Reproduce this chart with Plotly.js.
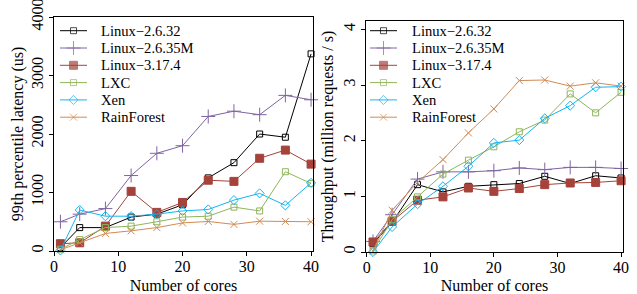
<!DOCTYPE html>
<html><head><meta charset="utf-8">
<script src="https://cdn.plot.ly/plotly-3.0.1.min.js"></script>
<style>html,body{margin:0;padding:0;background:#fff}#chart{width:637px;height:294px}</style>
</head><body><div id="chart"></div>
<script>
// ---- data ----
const cores = [1, 4, 8, 12, 16, 20, 24, 28, 32, 36, 40];
const seriesNames = ["Linux\u22122.6.32", "Linux\u22122.6.35M", "Linux\u22123.17.4", "LXC", "Xen", "RainForest"];

// 99th percentile latency (us)
const latLinux2632  = [60, 400, 400, 580, 630, 790, 1250, 1510, 2000, 1945, 3370];
const latLinux2635M = [500, 630, 725, 1290, 1670, 1800, 2300, 2390, 2330, 2660, 2585];
const latLinux3174  = [125, 140, 425, 1020, 660, 830, 1210, 1190, 1585, 1725, 1485];
const latLXC        = [30, 195, 400, 425, 500, 580, 595, 750, 685, 1355, 1155];
const latXen        = [10, 700, 595, 595, 630, 685, 710, 870, 985, 780, 1165];
const latRainForest = [20, 140, 300, 345, 400, 480, 505, 455, 510, 505, 500];

// Throughput (million requests / s)
const thrLinux2632  = [0.15, 0.53, 1.21, 1.08, 1.18, 1.21, 1.23, 1.36, 1.23, 1.37, 1.33];
const thrLinux2635M = [0.19, 0.67, 1.31, 1.44, 1.44, 1.46, 1.51, 1.48, 1.52, 1.52, 1.50];
const thrLinux3174  = [0.18, 0.55, 0.93, 0.99, 1.15, 1.09, 1.14, 1.21, 1.24, 1.25, 1.28];
const thrLXC        = [0.02, 0.58, 0.99, 1.40, 1.65, 1.89, 2.16, 2.37, 2.84, 2.50, 2.87];
const thrXen        = [0.00, 0.45, 0.86, 1.18, 1.54, 1.96, 2.01, 2.40, 2.63, 2.96, 2.97];
const thrRainForest = [0.02, 0.75, 1.25, 1.66, 2.14, 2.57, 3.08, 3.09, 2.98, 3.04, 2.98];

const latencySeries = [latLinux2632, latLinux2635M, latLinux3174, latLXC, latXen, latRainForest];
const throughputSeries = [thrLinux2632, thrLinux2635M, thrLinux3174, thrLXC, thrXen, thrRainForest];

const latTicks = [0, 1000, 2000, 3000, 4000];
const thrTicks = [0, 1, 2, 3, 4];
const coreTicks = [0, 10, 20, 30, 40];

// ---- styles ----
const colors  = ["#000000", "#8064A2", "#A5433B", "#8FB55A", "#16B4F0", "#D08B55"];
const symbols = ["square-open", "cross-thin-open", "square", "square-open", "diamond-open", "x-thin-open"];
const sizes   = [6, 10, 8, 6, 7, 7];

const FONT = "Liberation Serif, Times New Roman, serif";
const W = 637, H = 294;

const traces = [];
function addSeries(dataList, xa, ya) {
  dataList.forEach((vals, i) => {
    traces.push({
      type: "scatter", mode: "lines+markers", x: cores, y: vals,
      xaxis: xa, yaxis: ya, name: seriesNames[i], showlegend: false,
      line: {color: colors[i], width: 1},
      marker: {symbol: symbols[i], size: sizes[i], color: colors[i], line: {color: colors[i], width: 1}},
      cliponaxis: false
    });
  });
}
addSeries(latencySeries, "x", "y");
addSeries(throughputSeries, "x2", "y2");

// legend keys drawn on a pixel-space overlay axis
const annotations = [];
const legendBoxes = [{lineX0: 60, lineX1: 87, textX: 99, y0: 30.7}, {lineX0: 370, lineX1: 397, textX: 410, y0: 30.7}];
const rowGap = 17.3;
legendBoxes.forEach(b => {
  seriesNames.forEach((nm, i) => {
    const yy = b.y0 + i * rowGap;
    const mid = (b.lineX0 + b.lineX1) / 2;
    traces.push({
      type: "scatter", mode: "lines+markers", x: [b.lineX0, mid, b.lineX1], y: [yy, yy, yy],
      xaxis: "x3", yaxis: "y3", showlegend: false, hoverinfo: "skip", cliponaxis: false,
      line: {color: colors[i], width: 1},
      marker: {symbol: symbols[i], size: [0, sizes[i], 0], color: colors[i], line: {color: colors[i], width: 1}}
    });
    annotations.push({
      xref: "x3", yref: "y3", x: b.textX, y: yy, text: nm, showarrow: false,
      xanchor: "left", yanchor: "middle", font: {family: FONT, size: 14.6, color: "#000"}
    });
  });
});

const px = (a) => a / W, py = (a) => 1 - a / H;
const axisCommon = {
  showline: true, mirror: true, linecolor: "#000", linewidth: 1,
  ticks: "outside", ticklen: 4, tickwidth: 1, tickcolor: "#000",
  showgrid: false, zeroline: false, ticklabeloverflow: "allow",
  tickfont: {family: FONT, size: 16, color: "#000"}
};

const layout = {
  width: W, height: H, margin: {l: 0, r: 0, t: 0, b: 0},
  paper_bgcolor: "#fff", plot_bgcolor: "rgba(0,0,0,0)",
  showlegend: false,
  font: {family: FONT, color: "#000"},
  xaxis: Object.assign({}, axisCommon, {
    domain: [px(54), px(313)], range: [0, 40.3], anchor: "y",
    tickvals: coreTicks, ticktext: coreTicks.map(String), ticklabelstandoff: -3,
    title: {text: "Number of cores", font: {family: FONT, size: 16}, standoff: 8}
  }),
  yaxis: Object.assign({}, axisCommon, {
    domain: [py(251), py(17)], range: [0, 4000], anchor: "x",
    tickvals: latTicks, ticktext: latTicks.map(String), tickangle: -90,
    title: {text: "99th percentile latency (us)", font: {family: FONT, size: 16}, standoff: 0}
  }),
  xaxis2: Object.assign({}, axisCommon, {
    domain: [px(366), px(623)], range: [-0.1, 40.3], anchor: "y2",
    tickvals: coreTicks, ticktext: coreTicks.map(String), ticklabelstandoff: -3,
    title: {text: "Number of cores", font: {family: FONT, size: 16}, standoff: 8}
  }),
  yaxis2: Object.assign({}, axisCommon, {
    domain: [py(252), py(21)], range: [0, 4.15], anchor: "x2",
    tickvals: thrTicks, ticktext: thrTicks.map(String), tickangle: -90,
    title: {text: "Throughput (million requests / s)", font: {family: FONT, size: 16}, standoff: 2}
  }),
  xaxis3: {domain: [0, 1], range: [0, W], visible: false, anchor: "y3", fixedrange: true},
  yaxis3: {domain: [0, 1], range: [H, 0], visible: false, anchor: "x3", fixedrange: true},
  annotations: annotations
};

Plotly.newPlot("chart", traces, layout, {staticPlot: true, displayModeBar: false});
</script>
</body></html>
